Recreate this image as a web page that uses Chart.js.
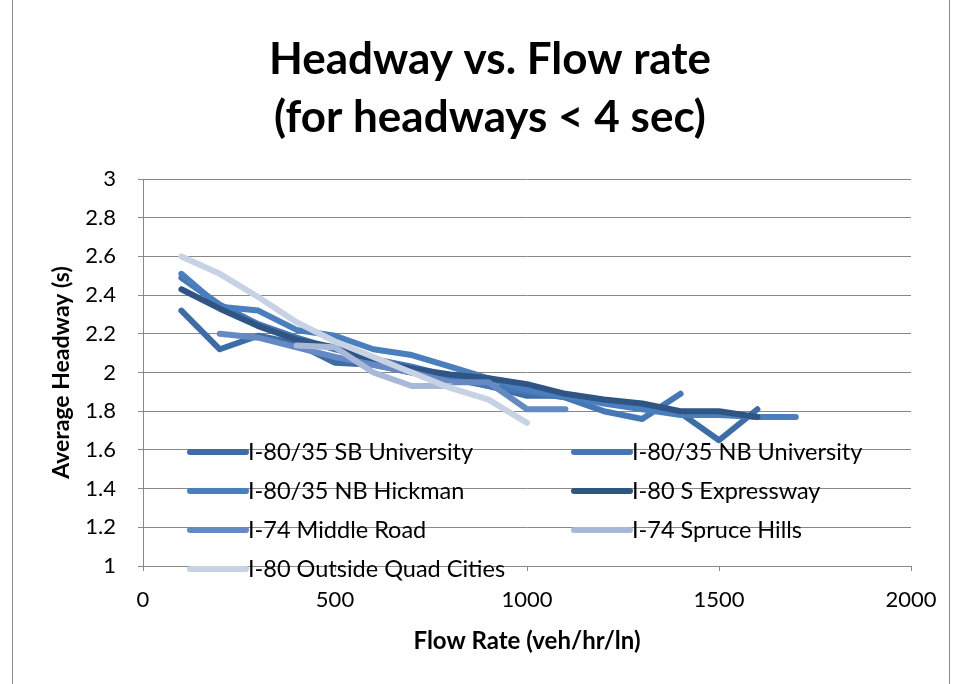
<!DOCTYPE html>
<html>
<head>
<meta charset="utf-8">
<script src="https://cdn.jsdelivr.net/npm/chart.js@4.4.1/dist/chart.umd.min.js"></script>
<style>
  html, body { margin: 0; padding: 0; background: #fff; }
  #wrap { width: 958px; height: 684px; }
</style>
</head>
<body>
<div id="wrap"><canvas id="flowChart" width="958" height="684"></canvas></div>
<script>
// flow rate (veh/hr/ln) for every sample point
const flowRate = [100, 200, 300, 400, 500, 600, 700, 800, 900, 1000, 1100, 1200, 1300, 1400, 1500, 1600, 1700];

// average headway (s) per site, null where the site has no data
const sbUniversity   = [2.32, 2.12, 2.19, 2.15, 2.05, 2.04, 2.00, 1.97, 1.93, 1.88, 1.88, 1.85, 1.83, 1.79, 1.65, 1.81, null];
const nbUniversity   = [2.49, 2.35, 2.25, 2.18, 2.12, 2.07, 2.03, 1.98, 1.93, 1.90, 1.87, 1.80, 1.76, 1.89, null, null, null];
const nbHickman      = [2.51, 2.34, 2.32, 2.22, 2.19, 2.12, 2.09, 2.03, 1.97, 1.91, 1.88, 1.84, 1.81, 1.78, 1.78, 1.77, 1.77];
const sExpressway    = [2.43, 2.33, 2.24, 2.17, 2.13, 2.06, 2.02, 1.99, 1.97, 1.94, 1.89, 1.86, 1.84, 1.80, 1.80, 1.77, null];
const middleRoad     = [null, 2.20, 2.18, 2.13, 2.08, 2.04, 2.00, 1.95, 1.95, 1.81, 1.81, null, null, null, null, null, null];
const spruceHills    = [null, null, null, 2.14, 2.13, 2.00, 1.93, 1.93, null, null, null, null, null, null, null, null, null];
const outsideQuad    = [2.60, 2.51, 2.39, 2.26, 2.16, 2.08, 2.00, 1.92, 1.86, 1.74, null, null, null, null, null, null, null];

const siteNames = ['I-80/35 SB University', 'I-80/35 NB University', 'I-80/35 NB Hickman',
  'I-80 S Expressway', 'I-74 Middle Road', 'I-74 Spruce Hills', 'I-80 Outside Quad Cities'];
const siteColors = ['#3d6ca6', '#4577b5', '#4a7fbe', '#2f5585', '#6489c3', '#a8b9d7', '#c8d2e5'];
const siteSeries = [sbUniversity, nbUniversity, nbHickman, sExpressway, middleRoad, spruceHills, outsideQuad];

const xTicks = [0, 500, 1000, 1500, 2000];
const xTickLabels = ['0', '500', '1000', '1500', '2000'];
const yTicks = [1, 1.2, 1.4, 1.6, 1.8, 2, 2.2, 2.4, 2.6, 2.8, 3];
const yTickLabels = ['1', '1.2', '1.4', '1.6', '1.8', '2', '2.2', '2.4', '2.6', '2.8', '3'];

const FONT = 'Lato, "Noto Sans", sans-serif';
const gridGray = '#888888';

function toPoints(vals) {
  const pts = [];
  vals.forEach(function(v, i) {
    if (v !== null) pts.push({ x: flowRate[i], y: v });
  });
  return pts;
}

const datasets = siteNames.map(function(name, i) {
  return {
    label: name,
    data: toPoints(siteSeries[i]),
    borderColor: siteColors[i],
    backgroundColor: siteColors[i],
    borderWidth: 6,
    borderCapStyle: 'round',
    borderJoinStyle: 'round',
    pointRadius: 0,
    tension: 0,
    fill: false,
    order: siteNames.length - i   // later series on top, like Excel
  };
});

// title, frame and the legend that sits inside the plot
const extras = {
  id: 'extras',
  beforeDraw(chart) {
    const c = chart.ctx;
    c.save();
    c.strokeStyle = '#8a8a8a';
    c.lineWidth = 1;
    c.beginPath();
    c.moveTo(12.5, 0); c.lineTo(12.5, 684);
    c.moveTo(949.5, 0); c.lineTo(949.5, 684);
    c.stroke();
    c.fillStyle = '#000';
    c.font = 'bold 44px ' + FONT;
    c.textAlign = 'center';
    c.textBaseline = 'middle';
    c.fillText('Headway vs. Flow rate', 490, 60);
    c.fillText('(for headways < 4 sec)', 490, 118);
    c.restore();
  },
  afterDatasetsDraw(chart) {
    const c = chart.ctx;
    const cols = [190, 574];
    const rows = [452, 491, 530, 569];
    c.save();
    c.font = '23.5px ' + FONT;
    c.textBaseline = 'middle';
    c.textAlign = 'left';
    chart.data.datasets.forEach(function(ds, i) {
      const x = cols[i % 2], y = rows[Math.floor(i / 2)];
      c.strokeStyle = ds.borderColor;
      c.lineWidth = 6;
      c.lineCap = 'round';
      c.beginPath();
      c.moveTo(x, y); c.lineTo(x + 56, y);
      c.stroke();
      c.fillStyle = '#000';
      c.fillText(ds.label, x + 58, y);
    });
    c.restore();
  }
};

const ctx = document.getElementById('flowChart').getContext('2d');

new Chart(ctx, {
  type: 'line',
  data: { datasets: datasets },
  options: {
    responsive: false,
    animation: false,
    layout: { padding: { left: 12, right: 47, top: 179, bottom: 0 } },
    plugins: {
      legend: { display: false },
      title: { display: false },
      tooltip: { enabled: false }
    },
    scales: {
      x: {
        type: 'linear',
        min: 0,
        max: 2000,
        afterBuildTicks(scale) { scale.ticks = xTicks.map(v => ({ value: v })); },
        afterFit(scale) { scale.height = 118; },
        grid: { drawOnChartArea: false, drawTicks: true, tickLength: 5, color: gridGray },
        border: { color: gridGray, width: 1 },
        ticks: {
          color: '#000',
          font: { family: FONT, size: 22 },
          padding: 16,
          maxRotation: 0,
          callback: function(v, i) { return xTickLabels[i]; }
        },
        title: {
          display: true,
          text: 'Flow Rate (veh/hr/ln)',
          color: '#000',
          font: { family: FONT, size: 24, weight: 'bold' },
          padding: { top: 0, bottom: 28 }
        }
      },
      y: {
        type: 'linear',
        min: 1,
        max: 3,
        afterBuildTicks(scale) { scale.ticks = yTicks.map(v => ({ value: v })); },
        afterFit(scale) { scale.width = 131; },
        grid: { color: gridGray, lineWidth: 1, drawTicks: true, tickLength: 5 },
        border: { color: gridGray, width: 1 },
        ticks: {
          color: '#000',
          font: { family: FONT, size: 22 },
          padding: 22,
          callback: function(v, i) { return yTickLabels[i]; }
        },
        title: {
          display: true,
          text: 'Average Headway (s)',
          color: '#000',
          font: { family: FONT, size: 23, weight: 'bold' },
          padding: { top: 36, bottom: 0 }
        }
      }
    }
  },
  plugins: [extras]
});
</script>
</body>
</html>
